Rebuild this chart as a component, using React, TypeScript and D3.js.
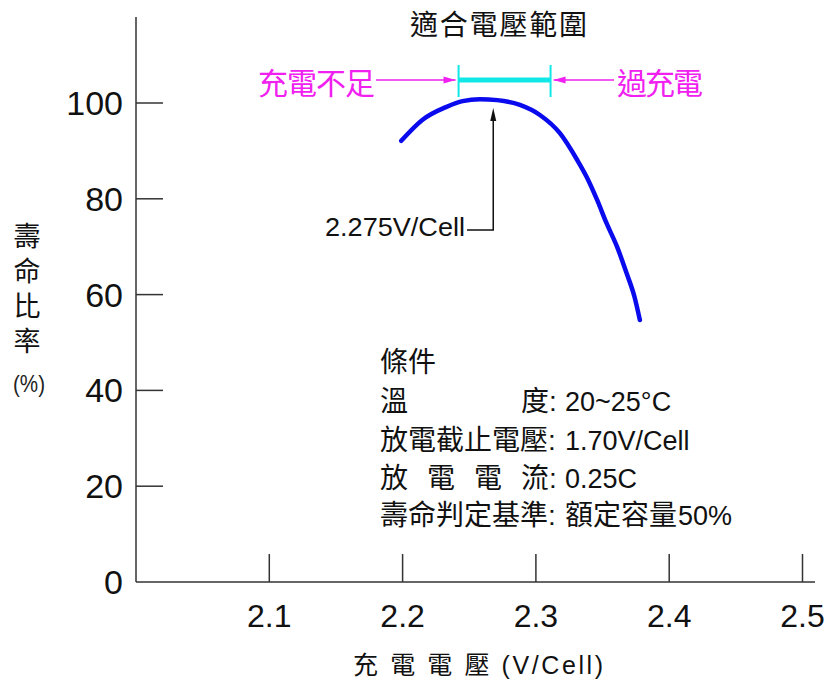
import React, { useEffect, useRef } from 'react';
import * as d3 from 'd3';

// Charge voltage (V/Cell) vs. life ratio (%)
const voltage = [2.199, 2.215, 2.233, 2.245, 2.258, 2.271, 2.288, 2.303, 2.318, 2.331, 2.338, 2.346, 2.353, 2.361, 2.368, 2.374, 2.378];
const lifeRatio = [92.1, 96.5, 99.2, 100.4, 100.8, 100.6, 99.6, 97.5, 93.7, 88.1, 84.6, 79.7, 74.9, 69.9, 64.5, 59.5, 54.7];

const xTicks = [2.1, 2.2, 2.3, 2.4, 2.5];
const yTicks = [0, 20, 40, 60, 80, 100];

// suitable charge voltage window and optimum point
const suitableRange = [2.242, 2.311];
const optimumVoltage = 2.268;
const optimumLabel = '2.275V/Cell';

const CJK = '"Noto Sans CJK TC", "Noto Sans CJK SC", sans-serif';
const LATIN = '"Liberation Sans", Arial, sans-serif';
const MIXED = '"Liberation Sans", Arial, "Noto Sans CJK TC", sans-serif';

const App: React.FC = () => {
    const svgRef = useRef<SVGSVGElement>(null);

    useEffect(() => {
        if (!svgRef.current) return;
        const svg = d3.select(svgRef.current);
        svg.selectAll('*').remove();

        const x = d3.scaleLinear().domain([2.0, 2.5]).range([136, 802.5]);
        const y = d3.scaleLinear().domain([0, 100]).range([582, 103]);
        const axisColor = '#333';

        // axes
        svg.append('line')
            .attr('x1', x(2.0)).attr('x2', 815)
            .attr('y1', y(0)).attr('y2', y(0))
            .attr('stroke', axisColor).attr('stroke-width', 1.5);
        svg.append('line')
            .attr('x1', x(2.0)).attr('x2', x(2.0))
            .attr('y1', y(0)).attr('y2', 17)
            .attr('stroke', axisColor).attr('stroke-width', 1.5);

        // x ticks (inward)
        const xt = svg.append('g');
        xTicks.forEach(t => {
            xt.append('line')
                .attr('x1', x(t)).attr('x2', x(t))
                .attr('y1', y(0)).attr('y2', y(0) - 28)
                .attr('stroke', axisColor).attr('stroke-width', 1.5);
            xt.append('text')
                .attr('x', x(t)).attr('y', 627)
                .attr('text-anchor', 'middle')
                .attr('font-family', LATIN).attr('font-size', 32)
                .attr('fill', '#111')
                .text(d3.format('.1f')(t));
        });

        // y ticks (inward)
        const yt = svg.append('g');
        yTicks.forEach(t => {
            if (t > 0) {
                yt.append('line')
                    .attr('x1', x(2.0)).attr('x2', x(2.0) + 27)
                    .attr('y1', y(t)).attr('y2', y(t))
                    .attr('stroke', axisColor).attr('stroke-width', 1.5);
            }
            yt.append('text')
                .attr('x', 123).attr('y', y(t) + 12)
                .attr('text-anchor', 'end')
                .attr('font-family', LATIN).attr('font-size', 34)
                .attr('fill', '#111')
                .text(t);
        });

        // y axis label (vertical)
        svg.append('text')
            .attr('x', 27).attr('y', 222)
            .attr('font-family', CJK).attr('font-size', 27)
            .attr('fill', '#111')
            .style('writing-mode', 'vertical-rl')
            .style('letter-spacing', '8px')
            .text('壽命比率');
        svg.append('text')
            .attr('x', 29).attr('y', 392)
            .attr('text-anchor', 'middle')
            .attr('font-family', LATIN).attr('font-size', 24)
            .attr('font-weight', 300)
            .attr('fill', '#222')
            .attr('textLength', 32).attr('lengthAdjust', 'spacingAndGlyphs')
            .text('(%)');

        // x axis label
        svg.append('text')
            .attr('x', 353).attr('y', 674)
            .attr('font-family', MIXED).attr('font-size', 25)
            .attr('fill', '#111')
            .attr('textLength', 250).attr('lengthAdjust', 'spacing')
            .text('充 電 電 壓 (V/Cell)');

        // life curve
        const line = d3.line<number>()
            .x((_, i) => x(voltage[i]))
            .y(d => y(d))
            .curve(d3.curveMonotoneX);
        svg.append('path')
            .attr('d', line(lifeRatio))
            .attr('fill', 'none')
            .attr('stroke', '#0a0aee')
            .attr('stroke-width', 4.5)
            .attr('stroke-linecap', 'round');

        // title
        svg.append('text')
            .attr('x', 410).attr('y', 35)
            .attr('font-family', CJK).attr('font-size', 28)
            .attr('fill', '#111')
            .attr('textLength', 177).attr('lengthAdjust', 'spacing')
            .text('適合電壓範圍');

        // suitable range bar
        const by = 80;
        const magenta = '#f020f0';
        const cyan = '#10e8e8';
        svg.append('line')
            .attr('x1', x(suitableRange[0])).attr('x2', x(suitableRange[1]))
            .attr('y1', by).attr('y2', by)
            .attr('stroke', cyan).attr('stroke-width', 5);
        suitableRange.forEach(v => {
            svg.append('line')
                .attr('x1', x(v)).attr('x2', x(v))
                .attr('y1', by - 15).attr('y2', by + 17)
                .attr('stroke', cyan).attr('stroke-width', 2);
        });

        // magenta arrows
        const x0 = x(suitableRange[0]) - 3;
        const x1 = x(suitableRange[1]) + 3;
        svg.append('line')
            .attr('x1', 376).attr('x2', x0)
            .attr('y1', by).attr('y2', by)
            .attr('stroke', magenta).attr('stroke-width', 1.5);
        svg.append('path')
            .attr('d', `M${x0},${by} L${x0 - 12},${by - 3.5} L${x0 - 12},${by + 3.5} Z`)
            .attr('fill', magenta);
        svg.append('line')
            .attr('x1', x1).attr('x2', 614)
            .attr('y1', by).attr('y2', by)
            .attr('stroke', magenta).attr('stroke-width', 1.5);
        svg.append('path')
            .attr('d', `M${x1},${by} L${x1 + 12},${by - 3.5} L${x1 + 12},${by + 3.5} Z`)
            .attr('fill', magenta);

        svg.append('text')
            .attr('x', 258).attr('y', 94)
            .attr('font-family', CJK).attr('font-size', 30)
            .attr('fill', magenta)
            .attr('textLength', 117).attr('lengthAdjust', 'spacing')
            .text('充電不足');
        svg.append('text')
            .attr('x', 617).attr('y', 94)
            .attr('font-family', CJK).attr('font-size', 30)
            .attr('fill', magenta)
            .attr('textLength', 86).attr('lengthAdjust', 'spacing')
            .text('過充電');

        // optimum point leader
        const ox = x(optimumVoltage);
        const tipY = 108;
        const ly = 230;
        svg.append('path')
            .attr('d', `M467,${ly} L${ox},${ly} L${ox},${tipY + 10}`)
            .attr('fill', 'none')
            .attr('stroke', '#111').attr('stroke-width', 1.5);
        svg.append('path')
            .attr('d', `M${ox},${tipY} L${ox - 3},${tipY + 13} L${ox + 3},${tipY + 13} Z`)
            .attr('fill', '#111');
        svg.append('text')
            .attr('x', 325).attr('y', 236)
            .attr('font-family', LATIN).attr('font-size', 26)
            .attr('fill', '#111')
            .attr('textLength', 140).attr('lengthAdjust', 'spacingAndGlyphs')
            .text(optimumLabel);

        // conditions block: CJK labels and Latin values placed separately
        const cond = svg.append('g').attr('fill', '#111');
        const rows = [372, 411, 450, 488, 525];
        const cjk = (px: number, py: number, s: string) =>
            cond.append('text').attr('x', px).attr('y', py)
                .attr('font-family', MIXED).attr('font-size', 28).text(s);
        const lat = (px: number, py: number, s: string) =>
            cond.append('text').attr('x', px).attr('y', py)
                .attr('font-family', LATIN).attr('font-size', 27).text(s);

        cjk(380, rows[0], '條件');
        cjk(380, rows[1], '溫');
        cjk(521, rows[1], '度:');
        lat(565, rows[1], '20~25°C');
        cjk(380, rows[2], '放電截止電壓:');
        lat(565, rows[2], '1.70V/Cell');
        cjk(380, rows[3], '放');
        cjk(427, rows[3], '電');
        cjk(474, rows[3], '電');
        cjk(521, rows[3], '流:');
        lat(565, rows[3], '0.25C');
        cjk(380, rows[4], '壽命判定基準:');
        cjk(565, rows[4], '額定容量');
        lat(678, rows[4], '50%');
    }, []);

    return (
        <svg
            ref={svgRef}
            width={824}
            height={685}
            style={{ position: 'absolute', left: 0, top: 0, background: '#fff' }}
        />
    );
};

export default App;
